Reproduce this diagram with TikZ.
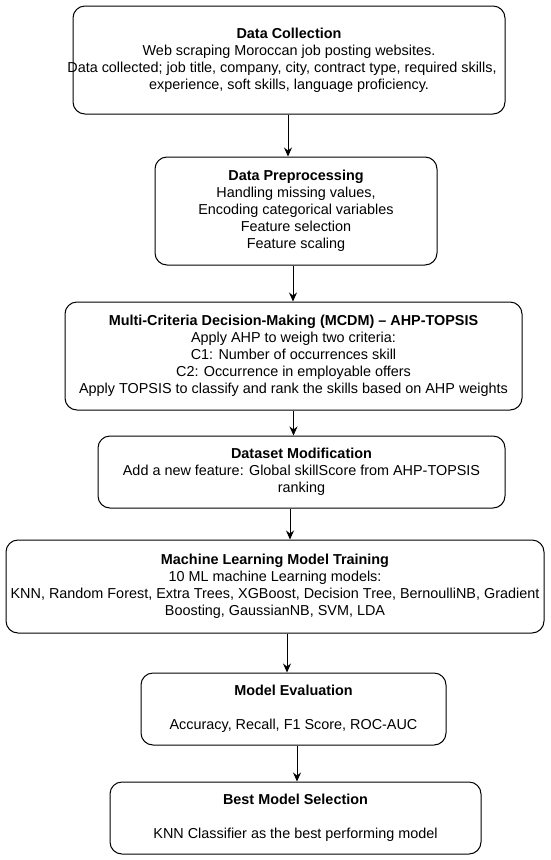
\documentclass[tikz,border=0pt]{standalone}
\usepackage{fontspec}
\setmainfont{Liberation Sans}
\usetikzlibrary{arrows.meta}

\tikzset{
  etapa/.style = {draw, rounded corners = 12pt, line width = 1pt, align = center,
                  inner xsep = 2pt, inner ysep = 0pt,
                  font = \fontsize{14.4}{17}\selectfont},
  flecha/.style = {line width = 1pt, -{Stealth[length = 9pt, width = 8pt, inset = 3pt]}}
}

\begin{document}
\begin{tikzpicture}[x = 1pt, y = -1pt]
\useasboundingbox (0, 0) rectangle (550, 860);

% Cada etapa del proceso es un nodo con nombre, colocado en su centro
\node[etapa, minimum width = 432pt, minimum height = 108pt] (A) at (289, 60)
  {\textbf{Data Collection}\\
   Web scraping Moroccan job posting websites.\\
   \makebox[420pt]{Data collected; job title, company, city, contract type, required skills,\hspace*{14pt}}\\
   experience, soft skills, language proficiency.};

\node[etapa, minimum width = 282pt, minimum height = 108pt] (B) at (296, 211)
  {\textbf{Data Preprocessing}\\
   Handling missing values,\\
   Encoding categorical variables\\
   Feature selection\\
   Feature scaling};

\node[etapa, minimum width = 457pt, minimum height = 108pt] (C) at (293.5, 356)
  {\textbf{Multi-Criteria Decision-Making (MCDM) -- AHP-TOPSIS}\\
   Apply AHP to weigh two criteria:\\
   C1: Number of occurrences skill\\
   C2: Occurrence in employable offers\\
   Apply TOPSIS to classify and rank the skills based on AHP weights};

\node[etapa, minimum width = 407pt, minimum height = 72pt] (D) at (301.5, 472)
  {\textbf{Dataset Modification}\\
   Add a new feature: Global skillScore from AHP-TOPSIS\\
   ranking};

\node[etapa, minimum width = 538pt, minimum height = 93pt] (E) at (275, 586.5)
  {\textbf{Machine Learning Model Training}\\
   10 ML machine Learning models:\\
   KNN, Random Forest, Extra Trees, XGBoost, Decision Tree, BernoulliNB, Gradient\\
   Boosting, GaussianNB, SVM, LDA};

\node[etapa, minimum width = 305pt, minimum height = 72pt] (F) at (293.5, 709)
  {\textbf{Model Evaluation}\\[17pt]
   Accuracy, Recall, F1 Score, ROC-AUC};

\node[etapa, minimum width = 371pt, minimum height = 72pt] (G) at (295.5, 818)
  {\textbf{Best Model Selection}\\[17pt]
   KNN Classifier as the best performing model};

% Las flechas bajan en vertical de una etapa a la siguiente
\draw[flecha] ([xshift = -1pt]A.south) -- ([xshift = -1pt]A.south |- B.north);
\draw[flecha] ([xshift = -3pt]B.south) -- ([xshift = -3pt]B.south |- C.north);
\draw[flecha] (C.south) -- (C.south |- D.north);
\draw[flecha] ([xshift = -11.5pt]D.south) -- ([xshift = -11.5pt]D.south |- E.north);
\draw[flecha] ([xshift = 12pt]E.south) -- ([xshift = 12pt]E.south |- F.north);
\draw[flecha] ([xshift = 3.5pt]F.south) -- ([xshift = 3.5pt]F.south |- G.north);
\end{tikzpicture}
\end{document}
